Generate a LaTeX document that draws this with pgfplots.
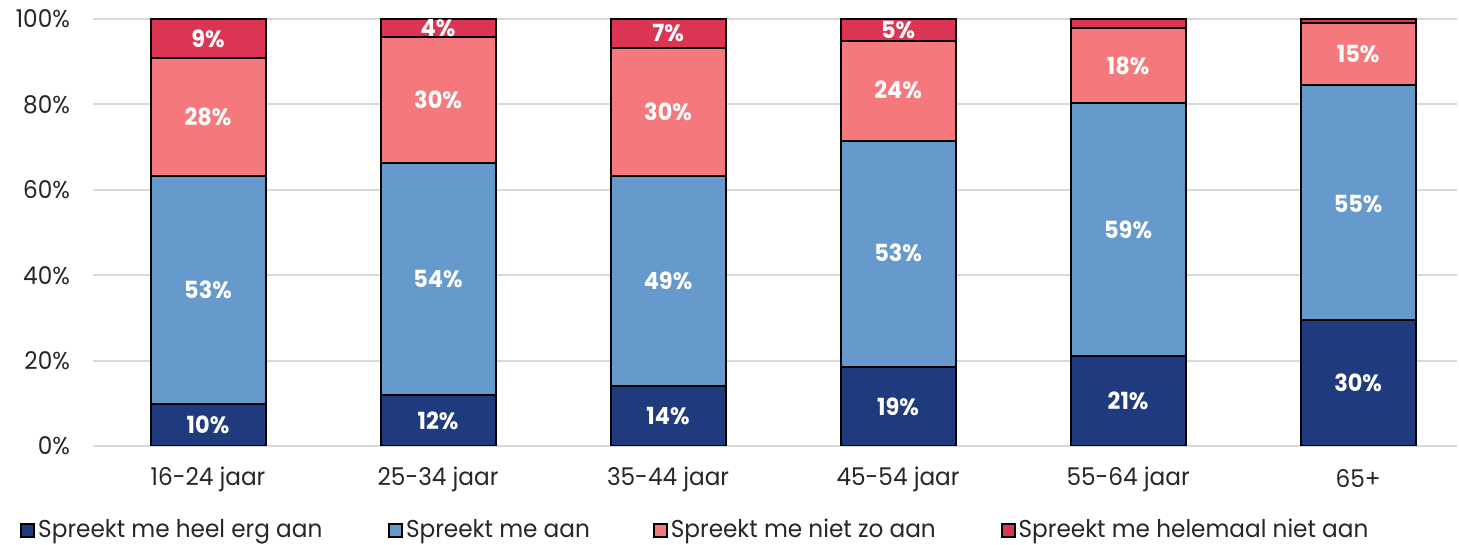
\documentclass[border=0pt]{standalone}
\usepackage{fontspec}
\setmainfont{Poppins}[FakeStretch=0.95]
\usepackage{pgfplots}
\usepackage{pgfplotstable}
\pgfplotsset{compat=1.18}
\definecolor{cNavy}{HTML}{203A7E}
\definecolor{cBlue}{HTML}{6699CC}
\definecolor{cPink}{HTML}{F4787C}
\definecolor{cRed}{HTML}{DC3553}
\definecolor{cGrid}{HTML}{D9D9D9}

\pgfplotstableread{
x heel aan niet helemaal
0 9.8  53.4 27.7 9.1
1 11.9 54.4 29.5 4.2
2 14.0 49.2 30.0 6.8
3 18.5 52.9 23.4 5.2
4 21.1 59.2 17.6 2.1
5 29.5 55.0 14.6 0.9
}\datatable

\pgfplotstableread{
x y label
0 4.9 10\%
0 36.5 53\%
0 77.05 28\%
0 95.45 9\%
1 5.95 12\%
1 39.1 54\%
1 81.05 30\%
1 97.9 4\%
2 7.0 14\%
2 38.6 49\%
2 78.2 30\%
2 96.6 7\%
3 9.25 19\%
3 45.15 53\%
3 83.3 24\%
3 97.4 5\%
4 10.55 21\%
4 50.7 59\%
4 89.1 18\%
5 14.75 30\%
5 56.75 55\%
5 91.8 15\%
}\labeltable

\begin{document}
\begin{tikzpicture}
\useasboundingbox (-46.5pt,-49.5pt) rectangle (683pt,223pt);
\pgfplotsset{
  commonaxis/.style={
    scale only axis,
    width=682pt, height=213.5pt,
    xmin=-0.5, xmax=5.43,
    ymin=0, ymax=100,
  }
}
\begin{axis}[
  commonaxis,
  ybar stacked,
  bar width=57.5pt,
  axis line style={draw=none},
  ymajorgrids,
  grid style={cGrid, line width=1pt},
  ytick={0,20,40,60,80,100},
  yticklabels={0\%,20\%,40\%,60\%,80\%,100\%},
  xtick={0,1,2,3,4,5},
  xticklabels={16-24 jaar,25-34 jaar,35-44 jaar,45-54 jaar,55-64 jaar,65+},
  major tick length=0pt,
  tick style={draw=none},
  tick label style={font=\fontsize{12.2}{14}\selectfont, text=black!85},
  yticklabel style={anchor=east, xshift=-8pt},
  xticklabel style={anchor=center, yshift=-16.5pt},
  legend style={
    at={(-0.0535,-0.197)}, anchor=west,
    draw=none, fill=none, inner sep=0pt,
    font=\fontsize{12.2}{14}\selectfont,
    legend columns=4,
    /tikz/column sep=1.5pt,
    nodes={inner sep=0pt, text=black!85},
  },
  legend image code/.code={\draw[#1, draw=black, line width=0.9pt] (0pt,-3.25pt) rectangle (6.5pt,3.25pt);},
]
\addplot[fill=cNavy, draw=black, line width=1pt] table[x=x, y=heel] {\datatable};
\addplot[fill=cBlue, draw=black, line width=1pt] table[x=x, y=aan] {\datatable};
\addplot[fill=cPink, draw=black, line width=1pt] table[x=x, y=niet] {\datatable};
\addplot[fill=cRed, draw=black, line width=1pt] table[x=x, y=helemaal] {\datatable};
\addlegendentry{\makebox[173.5pt][l]{Spreekt me heel erg aan}}
\addlegendentry{\makebox[122pt][l]{Spreekt me aan}}
\addlegendentry{\makebox[163.5pt][l]{Spreekt me niet zo aan}}
\addlegendentry{Spreekt me helemaal niet aan}
\end{axis}
\begin{axis}[
  commonaxis,
  axis lines=none,
  xtick=\empty, ytick=\empty,
]
\addplot[draw=none, mark=none, only marks,
  nodes near coords,
  point meta=explicit symbolic,
  every node near coord/.style={anchor=center, text=white, font=\bfseries\fontsize{11.8}{14}\selectfont},
] table[x=x, y=y, meta=label] {\labeltable};
\end{axis}
\end{tikzpicture}
\end{document}
